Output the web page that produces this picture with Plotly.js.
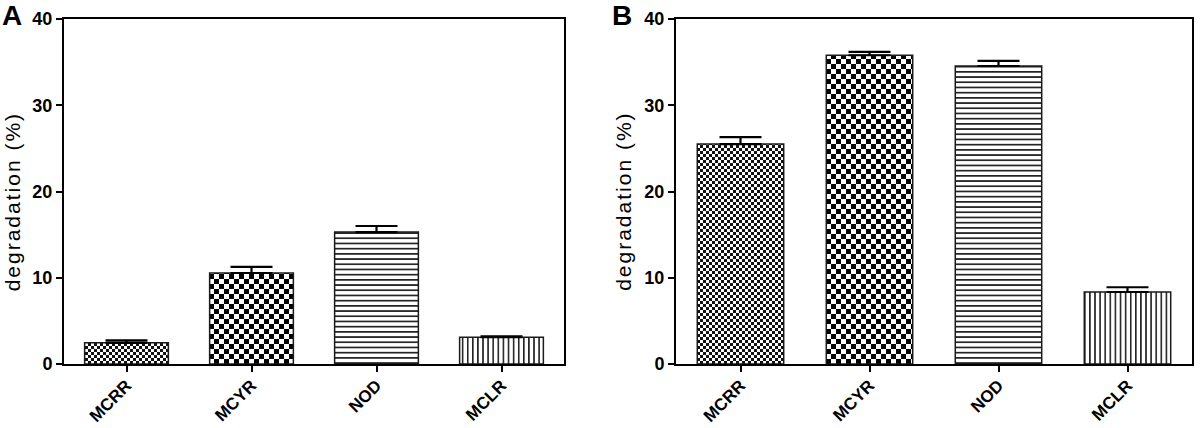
<!DOCTYPE html>
<html>
<head>
<meta charset="utf-8">
<script src="https://cdn.plot.ly/plotly-3.0.1.min.js"></script>
<style>
  html, body { margin: 0; padding: 0; background: #fff; }
  #chart { width: 1200px; height: 428px; }
</style>
</head>
<body>
<svg width="0" height="0" style="position:absolute;left:0;top:0" aria-hidden="true">
  <defs>
    <pattern id="pat-fine" patternUnits="userSpaceOnUse" width="6" height="6">
      <rect x="0" y="0" width="6" height="6" fill="#ffffff"/>
      <rect x="0" y="0" width="3" height="3" fill="#111111"/>
      <rect x="3" y="3" width="3" height="3" fill="#111111"/>
    </pattern>
    <pattern id="pat-coarse" patternUnits="userSpaceOnUse" width="10" height="10">
      <rect x="0" y="0" width="10" height="10" fill="#ffffff"/>
      <rect x="0" y="0" width="5" height="5" fill="#000000"/>
      <rect x="5" y="5" width="5" height="5" fill="#000000"/>
    </pattern>
    <pattern id="pat-horiz" patternUnits="userSpaceOnUse" width="10" height="5.2">
      <rect x="0" y="0" width="10" height="5.2" fill="#ffffff"/>
      <rect x="0" y="0" width="10" height="1.7" fill="#222222"/>
    </pattern>
    <pattern id="pat-vert" patternUnits="userSpaceOnUse" width="5.1" height="10">
      <rect x="0" y="0" width="5.1" height="10" fill="#ffffff"/>
      <rect x="0" y="0" width="1.6" height="10" fill="#222222"/>
    </pattern>
  </defs>
</svg>
<div id="chart"></div>
<script>
// ---- data ----
const categories = ["MCRR", "MCYR", "NOD", "MCLR"];
const valuesA = [2.45, 10.55, 15.3, 3.1];
const errorsA = [0.3, 0.7, 0.7, 0.12];
const valuesB = [25.5, 35.8, 34.55, 8.35];
const errorsB = [0.8, 0.4, 0.6, 0.55];
const yTickVals = [0, 10, 20, 30, 40];
const panelLabels = ["A", "B"];
const yTitle = "degradation (%)";
const patternIds = ["pat-fine", "pat-coarse", "pat-horiz", "pat-vert"];

const W = 1200;
const font = "Liberation Sans, Arial, Helvetica, sans-serif";

function barTrace(vals, errs, xa, ya) {
  return {
    type: "bar",
    x: categories,
    y: vals,
    xaxis: xa,
    yaxis: ya,
    width: 0.67,
    marker: {
      color: "#ffffff",
      line: { color: "#1a1a1a", width: 1.5 }
    },
    error_y: {
      type: "data",
      symmetric: false,
      array: errs,
      arrayminus: errs.map(() => 0),
      color: "#000000",
      thickness: 2.2,
      width: 21
    },
    hoverinfo: "x+y",
    showlegend: false
  };
}

function xAxis(domain) {
  return {
    domain: domain,
    type: "category",
    range: [-0.5, 3.5],
    showline: true,
    linecolor: "#000",
    linewidth: 2,
    mirror: true,
    ticks: "outside",
    ticklen: 6,
    tickwidth: 2,
    tickcolor: "#000",
    tickangle: -45,
    ticklabelstandoff: -3,
    tickfont: { family: font, size: 17, color: "#000", weight: "bold" },
    showgrid: false,
    zeroline: false,
    fixedrange: true
  };
}

function yAxis(anchor) {
  return {
    anchor: anchor,
    domain: [0, 1],
    range: [0, 40],
    tickvals: yTickVals,
    ticktext: yTickVals.map(String),
    showline: true,
    linecolor: "#000",
    linewidth: 2,
    mirror: true,
    ticks: "outside",
    ticklen: 6,
    tickwidth: 2,
    tickcolor: "#000",
    tickfont: { family: font, size: 18, color: "#000", weight: "bold" },
    showgrid: false,
    zeroline: false,
    fixedrange: true
  };
}

const data = [
  barTrace(valuesA, errorsA, "x", "y"),
  barTrace(valuesB, errorsB, "x2", "y2")
];

const layout = {
  width: 1200,
  height: 428,
  margin: { l: 0, r: 0, t: 19, b: 64 },
  paper_bgcolor: "#ffffff",
  plot_bgcolor: "#ffffff",
  font: { family: font, color: "#000" },
  xaxis: Object.assign(xAxis([64 / W, 564 / W]), { anchor: "y" }),
  yaxis: yAxis("x"),
  xaxis2: Object.assign(xAxis([676 / W, 1192 / W]), { anchor: "y2" }),
  yaxis2: yAxis("x2"),
  annotations: [
    {
      text: panelLabels[0], xref: "paper", yref: "paper",
      x: 0, y: 1 + 21 / 345, xanchor: "left", yanchor: "top",
      showarrow: false, font: { family: font, size: 28, color: "#000", weight: "bold" }
    },
    {
      text: panelLabels[1], xref: "paper", yref: "paper",
      x: 610 / W, y: 1 + 21 / 345, xanchor: "left", yanchor: "top",
      showarrow: false, font: { family: font, size: 28, color: "#000", weight: "bold" }
    },
    {
      text: yTitle, xref: "paper", yref: "paper",
      x: 12.5 / W, y: 0.47, xanchor: "center", yanchor: "middle",
      textangle: -90, showarrow: false,
      font: { family: font, size: 21, color: "#000" }
    },
    {
      text: yTitle, xref: "paper", yref: "paper",
      x: 624 / W, y: 0.47, xanchor: "center", yanchor: "middle",
      textangle: -90, showarrow: false,
      font: { family: font, size: 21, color: "#000" }
    }
  ]
};

Plotly.newPlot("chart", data, layout, { staticPlot: true, displayModeBar: false }).then(function (gd) {
  const traces = gd.querySelectorAll(".barlayer .trace");
  traces.forEach(function (tr) {
    tr.querySelectorAll(".point path").forEach(function (p, i) {
      p.style.fill = "url(#" + patternIds[i % patternIds.length] + ")";
      p.style.fillOpacity = 1;
    });
  });
  gd.querySelectorAll(".annotation-text").forEach(function (t) {
    if (t.textContent === yTitle) t.style.letterSpacing = "2px";
  });
});
</script>
</body>
</html>
